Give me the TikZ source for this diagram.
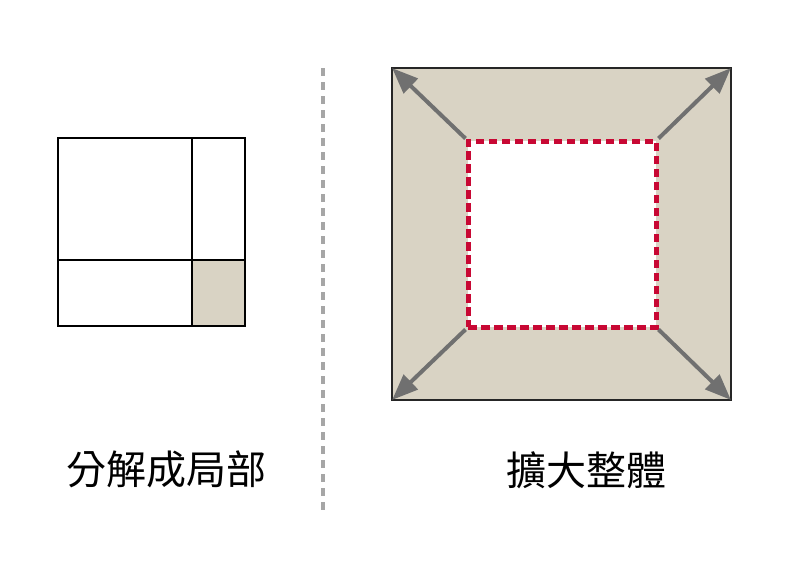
\documentclass[tikz,border=0pt]{standalone}
\usepackage{fontspec}
\newfontfamily\cjk{Noto Sans CJK TC}
\usetikzlibrary{arrows.meta}
\definecolor{sand}{RGB}{217,211,196}
\definecolor{crimson}{RGB}{200,8,52}
\definecolor{arrowgray}{RGB}{112,112,112}

\begin{document}
\begin{tikzpicture}[x=1pt,y=-1pt,
    cell/.style={draw=black,line width=1.2pt},
    label text/.style={font=\cjk\fontsize{40}{42}\selectfont,inner sep=0pt},
    grow arrow/.style={draw=arrowgray,line width=4pt,-{Triangle[length=26pt,width=20pt]},shorten >=1pt}]
    \useasboundingbox (0,0) rectangle (792,570);

    % 左: 分解
    \fill[sand](192,260)rectangle(245,326);%右下の小区画
    \draw[cell](58,138)rectangle(245,326);
    \draw[cell](192,138)--(192,326);
    \draw[cell](58,260)--(245,260);
    \node[label text](parts)at(166,469){分解成局部};

    % 区切り線
    \coordinate(top)at(323,68);
    \coordinate(bottom)at(323,512);
    \draw[gray!70,line width=4pt,dash pattern=on 8pt off 6pt](top)--(bottom);

    % 右: 拡大
    \node[draw=black!85,line width=1.2pt,fill=sand,minimum width=339pt,minimum height=332pt,inner sep=0pt](big)at(561.5,234){};
    \node[draw=crimson,line width=5pt,fill=white,dash pattern=on 8.5pt off 4.5pt,minimum width=188pt,minimum height=186pt,inner sep=0pt](core)at(562,234){};
    \foreach\c in{north west,north east,south west,south east}\draw[grow arrow](core.\c)--(big.\c);
    \node[label text](whole)at(586,470){擴大整體};
\end{tikzpicture}
\end{document}
